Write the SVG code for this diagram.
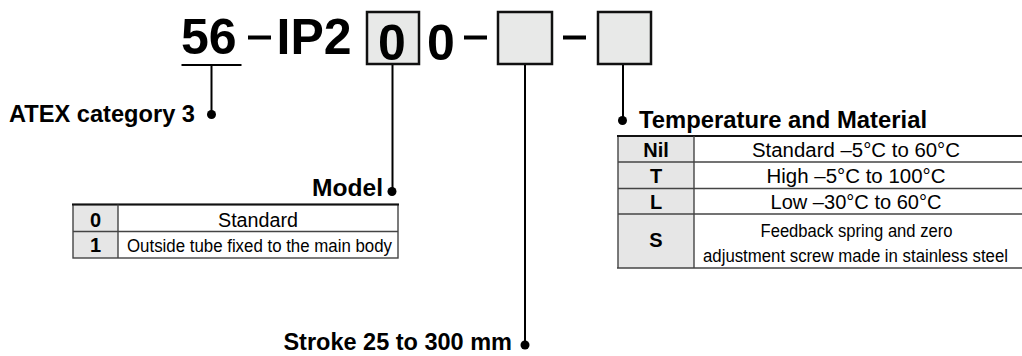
<svg xmlns="http://www.w3.org/2000/svg" width="1022" height="356" viewBox="0 0 1022 356">
<style>
text{font-family:"Liberation Sans",Arial,Helvetica,sans-serif;fill:#000}
.code{font-size:50px;font-weight:bold}
.hdr{font-size:23.5px;font-weight:bold}
.cell{font-size:19.5px}
.cells{font-size:17.5px}
.cellb{font-size:20px;font-weight:bold}
.box{fill:#e8e9e8;stroke:#111;stroke-width:2.5}
.dash{fill:#000}
.conn{stroke:#000;stroke-width:2;fill:none}
.dot{fill:#000}
.key{fill:#e6e6e6}
.tline{stroke:#444;stroke-width:1.4}
.ttop{stroke:#111;stroke-width:2}
.mid{text-anchor:middle}
</style>
<rect width="1022" height="356" fill="#fff"/>
<g id="code">
  <text class="code" x="181" y="54">56</text>
  <line x1="181.5" y1="65" x2="241.5" y2="65" stroke="#000" stroke-width="2"/>
  <rect class="dash" x="248" y="35.5" width="23" height="4"/>
  <text class="code" x="276.5" y="54">IP2</text>
  <rect class="box" x="367" y="12" width="52" height="52"/>
  <text class="code mid" x="392" y="59.5">0</text>
  <text class="code mid" x="441" y="59.5">0</text>
  <rect class="dash" x="464" y="35.5" width="23" height="4"/>
  <rect class="box" x="498" y="12" width="54" height="52"/>
  <rect class="dash" x="563" y="35.5" width="23" height="4"/>
  <rect class="box" x="598" y="12" width="53" height="52"/>
</g>
<g id="connectors">
  <line class="conn" x1="211.5" y1="66" x2="211.5" y2="114"/>
  <circle class="dot" cx="211.5" cy="114.5" r="4.5"/>
  <line class="conn" x1="392.5" y1="65" x2="392.5" y2="191"/>
  <circle class="dot" cx="392" cy="191.5" r="4.5"/>
  <line class="conn" x1="525" y1="65" x2="525" y2="344"/>
  <circle class="dot" cx="525" cy="345" r="4.5"/>
  <line class="conn" x1="623" y1="65" x2="623" y2="120"/>
  <circle class="dot" cx="622.5" cy="120.5" r="4.5"/>
</g>
<g id="node-atex">
  <text class="hdr" x="9" y="122" textLength="186" lengthAdjust="spacingAndGlyphs">ATEX category 3</text>
</g>
<g id="node-model">
  <text class="hdr" x="312" y="196" textLength="71" lengthAdjust="spacingAndGlyphs">Model</text>
  <rect class="key" x="73" y="204.5" width="45" height="53.5"/>
  <rect x="73" y="204.5" width="325" height="53.5" fill="none" stroke="#444" stroke-width="1.4"/>
  <line class="ttop" x1="72" y1="204.5" x2="399" y2="204.5"/>
  <line class="tline" x1="73" y1="231.5" x2="398" y2="231.5"/>
  <line class="tline" x1="118" y1="204.5" x2="118" y2="258"/>
  <text class="cellb mid" x="95.5" y="226.5">0</text>
  <text class="cell mid" x="258" y="226.5" textLength="80" lengthAdjust="spacingAndGlyphs">Standard</text>
  <text class="cellb mid" x="95.5" y="252">1</text>
  <text class="cells mid" x="259.5" y="252" textLength="265" lengthAdjust="spacingAndGlyphs">Outside tube fixed to the main body</text>
</g>
<g id="node-temp">
  <text class="hdr" x="639" y="128" textLength="288" lengthAdjust="spacingAndGlyphs">Temperature and Material</text>
  <rect class="key" x="618" y="136" width="76" height="132"/>
  <line class="tline" x1="618" y1="136" x2="618" y2="268"/>
  <line class="ttop" x1="617" y1="136" x2="1022" y2="136"/>
  <line class="tline" x1="618" y1="162" x2="1022" y2="162"/>
  <line class="tline" x1="618" y1="188.5" x2="1022" y2="188.5"/>
  <line class="tline" x1="618" y1="214" x2="1022" y2="214"/>
  <line class="tline" x1="617" y1="268" x2="1022" y2="268"/>
  <line class="tline" x1="694" y1="136" x2="694" y2="268"/>
  <text class="cellb mid" x="656" y="156.5">Nil</text>
  <text class="cell mid" x="856" y="156.5" textLength="208" lengthAdjust="spacingAndGlyphs">Standard –5°C  to 60°C</text>
  <text class="cellb mid" x="656" y="183">T</text>
  <text class="cell mid" x="856" y="183" textLength="179" lengthAdjust="spacingAndGlyphs">High –5°C  to 100°C</text>
  <text class="cellb mid" x="656" y="209">L</text>
  <text class="cell mid" x="856" y="209" textLength="171" lengthAdjust="spacingAndGlyphs">Low –30°C to 60°C</text>
  <text class="cellb mid" x="656" y="247">S</text>
  <text class="cells mid" x="856.5" y="236.5" textLength="192" lengthAdjust="spacingAndGlyphs">Feedback spring and zero</text>
  <text class="cells mid" x="855.5" y="261.5" textLength="305" lengthAdjust="spacingAndGlyphs">adjustment screw made in stainless steel</text>
</g>
<g id="node-stroke">
  <text class="hdr" x="512" y="350" text-anchor="end">Stroke 25 to 300 mm</text>
</g>
</svg>
